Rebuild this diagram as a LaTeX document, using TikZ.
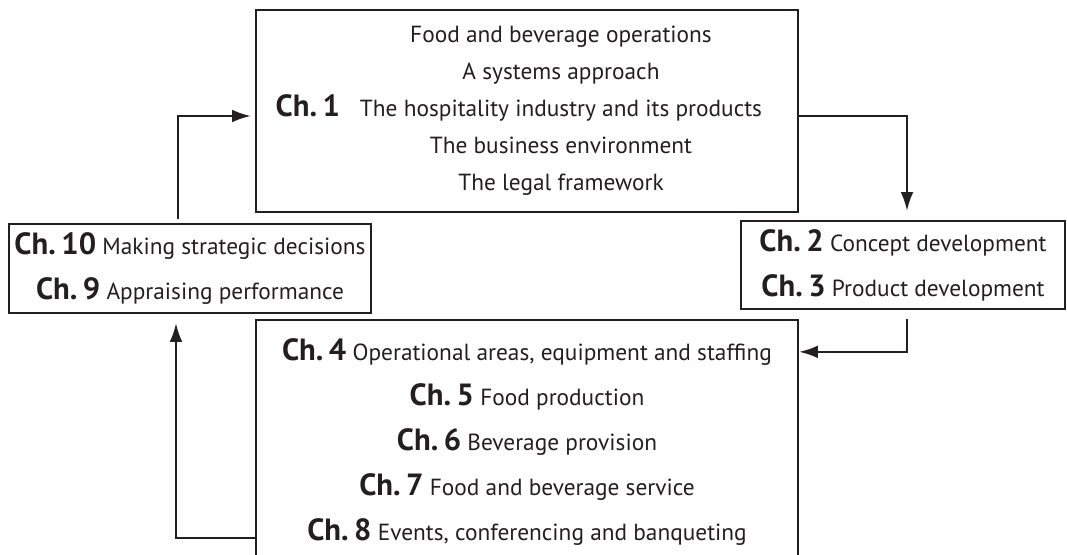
\documentclass[tikz,border=0pt]{standalone}
\usepackage{fontspec}
\setmainfont{PT Sans}
\usetikzlibrary{positioning, calc, arrows.meta}
\definecolor{ink}{HTML}{231F20}
\tikzset{>={Latex[length=14pt, width=9.5pt]}}
\tikzset{chapter box/.style={draw, line width=1.7pt, inner sep=0pt}}
\tikzset{chapter text/.style={align=center, font=\fontsize{17.5}{33.75}\selectfont}}
\newcommand{\chnum}[1]{{\fontsize{23}{26}\selectfont\bfseries Ch.\hspace{0.18em}#1}}

\begin{document}
\begin{tikzpicture}[x=0.75pt, y=-0.75pt, color=ink, line width=1.7pt]
  \useasboundingbox (0,0) rectangle (1067,555);

  \node[chapter box, minimum width=406.5pt, minimum height=151.5pt] (intro) at (527,111) {};
  \node[chapter text, font=\fontsize{17.5}{27.75}\selectfont] (intro-text) at ([xshift=25.5pt]intro.center)
  {Food and beverage operations \\ A systems approach \\
   \llap{\chnum{1}\hspace{15pt}}The hospitality industry and its products \\
   The business environment \\ The legal framework};

  \node[chapter box, chapter text, minimum width=243pt, minimum height=66pt] (develop) at (903,265)
  {\chnum{2} Concept development \\ \chnum{3} Product development};

  \node[chapter box, chapter text, minimum width=271.5pt, minimum height=66.75pt] (review) at (190,268.5)
  {\chnum{10} Making strategic decisions \\ \chnum{9} Appraising performance};

  \node[chapter box, chapter text, minimum width=406.5pt, minimum height=183.75pt] (operate) at (527,442.5)
  {\chnum{4} Operational areas, equipment and staffing \\ \chnum{5} Food production \\
   \chnum{6} Beverage provision \\ \chnum{7} Food and beverage service \\
   \chnum{8} Events, conferencing and banqueting};

  \draw [->, shorten <=3pt, shorten >=3pt] ([xshift=-9pt]review.north) |- ([yshift=-3.75pt]intro.west);
  \draw [->, shorten >=6.75pt] ([yshift=-3.75pt]intro.east) -| ([xshift=3pt]develop.north);
  \draw [->, shorten <=6.75pt] ([xshift=3pt]develop.south) |- ([yshift=-24.75pt]operate.north east);
  \draw [->, shorten >=6.75pt] ([yshift=-164.25pt]operate.north west) -| ([xshift=-10.5pt]review.south);
\end{tikzpicture}
\end{document}
